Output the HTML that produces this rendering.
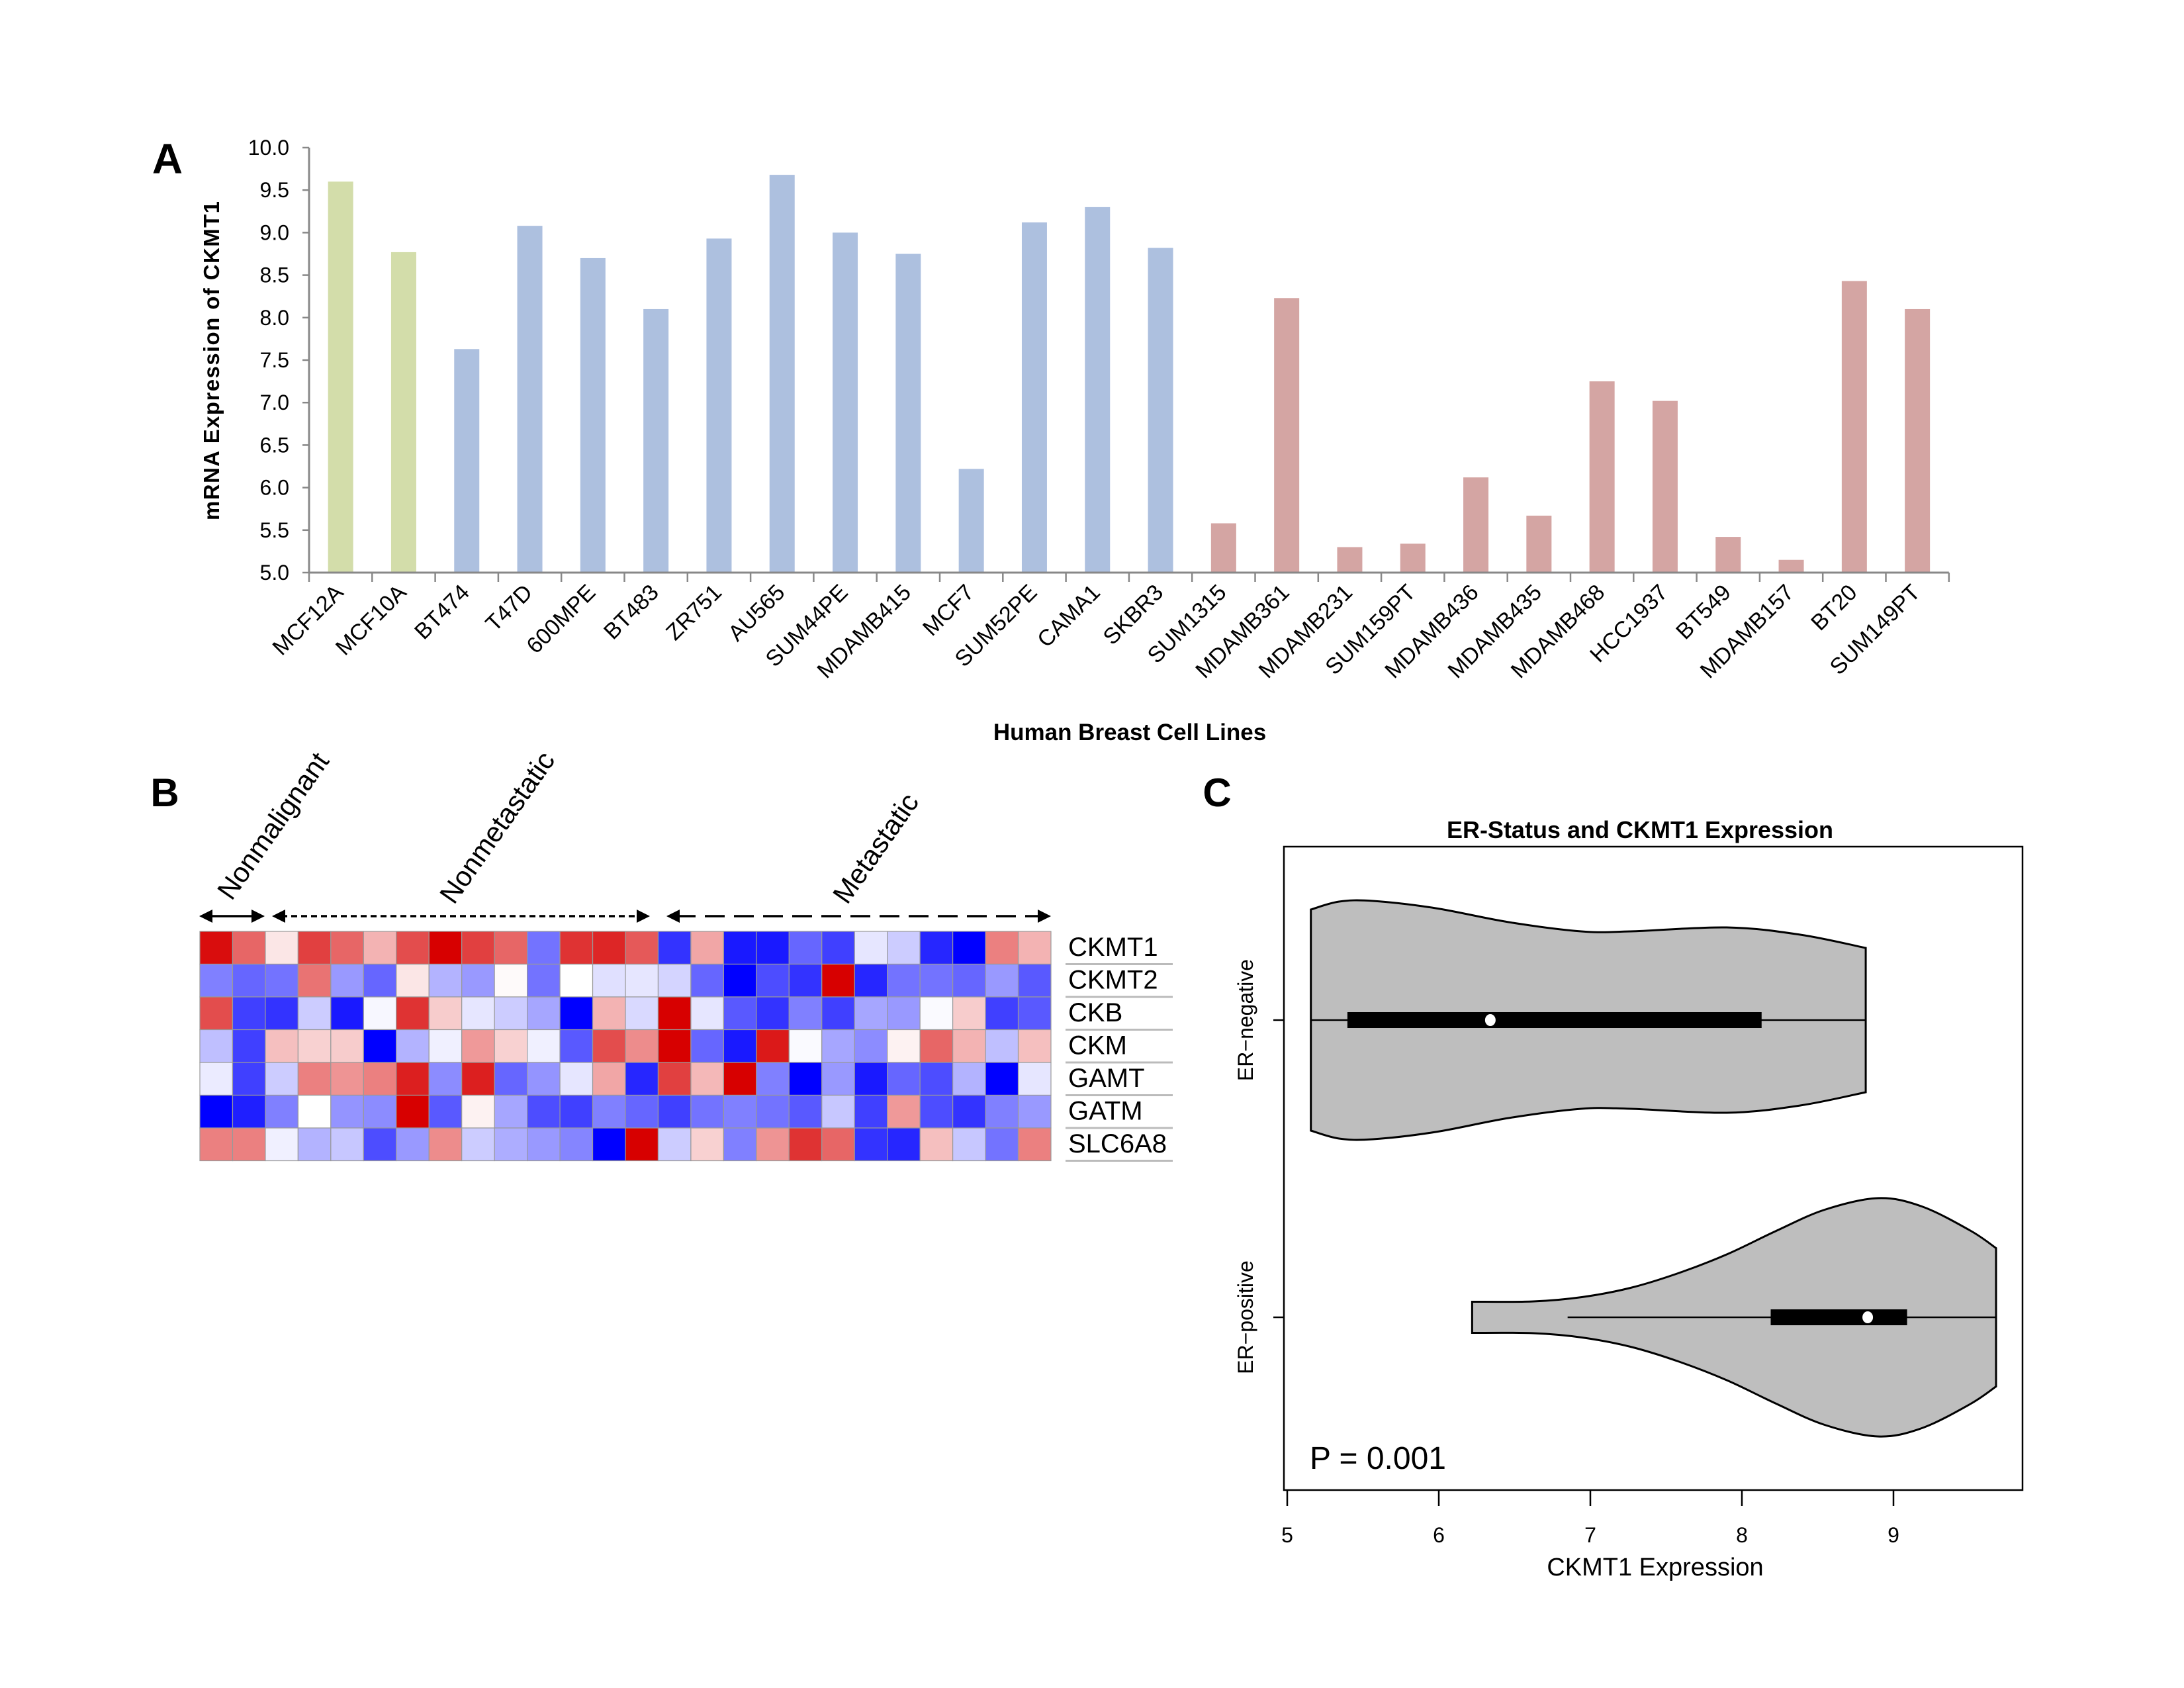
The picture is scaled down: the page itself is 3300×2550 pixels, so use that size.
<!DOCTYPE html>
<html><head><meta charset="utf-8"><style>
html,body{margin:0;padding:0;background:#fff}
svg{display:block}
text{font-family:"Liberation Sans",sans-serif}
</style></head><body>
<svg id="fig" width="3300" height="2550" viewBox="0 0 3300 2550" xmlns="http://www.w3.org/2000/svg">
<g id="panelA"></g>
<g id="panelB"></g>
<g id="panelC"></g>
</svg>
<script>
const NS="http://www.w3.org/2000/svg";
// ---------- Panel A data ----------
const cellLines=["MCF12A","MCF10A","BT474","T47D","600MPE","BT483","ZR751","AU565","SUM44PE","MDAMB415","MCF7","SUM52PE","CAMA1","SKBR3","SUM1315","MDAMB361","MDAMB231","SUM159PT","MDAMB436","MDAMB435","MDAMB468","HCC1937","BT549","MDAMB157","BT20","SUM149PT"];
const ckmt1Values=[9.6,8.77,7.63,9.08,8.7,8.1,8.93,9.68,9.0,8.75,6.22,9.12,9.3,8.82,5.58,8.23,5.3,5.34,6.12,5.67,7.25,7.02,5.42,5.15,8.43,8.1];
const cellGroups=["non","non","nm","nm","nm","nm","nm","nm","nm","nm","nm","nm","nm","nm","m","m","m","m","m","m","m","m","m","m","m","m"];
const yTicksA=[5.0,5.5,6.0,6.5,7.0,7.5,8.0,8.5,9.0,9.5,10.0];
// ---------- Panel B data ----------
const genes=["CKMT1","CKMT2","CKB","CKM","GAMT","GATM","SLC6A8"];
const heat=[
[0.95,0.6,0.1,0.75,0.6,0.3,0.7,1.0,0.75,0.6,-0.55,0.8,0.85,0.65,-0.8,0.35,-0.9,-0.9,-0.6,-0.75,-0.1,-0.2,-0.85,-1.0,0.5,0.3],
[-0.5,-0.6,-0.55,0.55,-0.4,-0.6,0.1,-0.3,-0.4,0.02,-0.55,0.0,-0.12,-0.1,-0.17,-0.6,-1.0,-0.7,-0.8,1.0,-0.85,-0.55,-0.55,-0.6,-0.4,-0.65],
[0.7,-0.75,-0.8,-0.2,-0.9,-0.03,0.8,0.2,-0.1,-0.2,-0.35,-1.0,0.3,-0.15,1.0,-0.1,-0.65,-0.8,-0.5,-0.75,-0.35,-0.4,-0.02,0.2,-0.75,-0.65],
[-0.25,-0.75,0.25,0.18,0.2,-1.0,-0.3,-0.06,0.4,0.18,-0.06,-0.65,0.7,0.45,1.0,-0.6,-0.9,0.9,-0.02,-0.35,-0.45,0.05,0.6,0.3,-0.25,0.25],
[-0.08,-0.75,-0.2,0.5,0.42,0.5,0.88,-0.45,0.88,-0.6,-0.42,-0.1,0.35,-0.85,0.75,0.28,1.0,-0.5,-1.0,-0.4,-0.9,-0.6,-0.7,-0.3,-1.0,-0.1],
[-1.0,-0.88,-0.5,0.0,-0.42,-0.45,1.0,-0.65,0.05,-0.35,-0.7,-0.75,-0.5,-0.6,-0.75,-0.55,-0.5,-0.55,-0.65,-0.22,-0.75,0.4,-0.7,-0.8,-0.5,-0.4],
[0.5,0.5,-0.06,-0.3,-0.22,-0.7,-0.4,0.45,-0.2,-0.32,-0.4,-0.48,-1.0,1.0,-0.2,0.18,-0.5,0.42,0.8,0.6,-0.8,-0.85,0.25,-0.22,-0.55,0.5]];
// ---------- Panel C data ----------
const negX=[5.156,5.342,5.566,5.98,6.46,6.94,7.265,7.90,8.385,8.817];
const negDens=[167,179,180,169,148,134,134,140,129,109];
const negBox=[5.156,5.397,6.34,8.13,8.817]; // min,q1,median,q3,max
const posX=[6.22,6.624,6.944,7.265,7.585,7.905,8.226,8.546,8.898,9.187,9.507,9.677];
const posDens=[23.5,24,30.5,44.5,67,95.5,130.5,162.5,180,167.5,131,104.5];
const posBox=[6.85,8.19,8.83,9.09,9.677];
const xTicksC=[5,6,7,8,9];

function el(tag,attrs,parent,txt){const e=document.createElementNS(NS,tag);for(const k in attrs)e.setAttribute(k,attrs[k]);if(txt!==undefined)e.textContent=txt;parent.appendChild(e);return e;}

// ===== Panel A =====
(function(){
const g=document.getElementById('panelA');
const x0=467,slot=95.3,y5=865,y10=223;
const Y=v=>y5-(v-5)/(5)*(y5-y10);
const colors={non:"#d3ddaa",nm:"#adc0df",m:"#d4a5a3"};
let t=el('text',{x:253,y:262,'font-size':64,'font-weight':'bold','text-anchor':'middle'},g,'A');

const xEnd=x0+slot*cellLines.length;
cellLines.forEach((c,i)=>{
 const cx=x0+slot*(i+0.5);
 const r=el('rect',{x:cx-19,y:Y(ckmt1Values[i]),width:38,height:y5-Y(ckmt1Values[i]),fill:colors[cellGroups[i]]},g);
 
 
 const lb=el('text',{x:cx+6,y:y5+32,'font-size':34,'text-anchor':'end',transform:`rotate(-45 ${cx+6} ${y5+32})`},g,c);
 
 
});
for(let i=0;i<=cellLines.length;i++){el('line',{x1:x0+slot*i,x2:x0+slot*i,y1:y5,y2:y5+14,stroke:'#888','stroke-width':2.5},g);}
const ax=el('line',{x1:x0,x2:xEnd,y1:y5,y2:y5,stroke:'#888','stroke-width':3},g);

const ay=el('line',{x1:x0,x2:x0,y1:y10,y2:y5,stroke:'#888','stroke-width':3},g);

yTicksA.forEach(v=>{
 el('line',{x1:x0-10,x2:x0,y1:Y(v),y2:Y(v),stroke:'#888','stroke-width':2.5},g);
 const tl=el('text',{x:x0-30,y:Y(v)+11,'font-size':32,'text-anchor':'end'},g,v.toFixed(1));
 
 
});
t=el('text',{x:331,y:545,'font-size':33,'font-weight':'bold','text-anchor':'middle',transform:'rotate(-90 331 545)',textLength:482},g,'mRNA Expression of CKMT1');

t=el('text',{x:1707,y:1118,'font-size':35,'font-weight':'bold','text-anchor':'middle'},g,'Human Breast Cell Lines');

})();

// ===== Panel B =====
(function(){
const g=document.getElementById('panelB');
const hx=302,hy=1407,cw=(1588-302)/26,rh=49.5;
function col(v){if(v>=0){return `rgb(${Math.round(255-40*v)},${Math.round(255*(1-v))},${Math.round(255*(1-v))})`;}const a=-v;return `rgb(${Math.round(255*(1-a))},${Math.round(255*(1-a))},255)`;}
let t=el('text',{x:249,y:1218,'font-size':60,'font-weight':'bold','text-anchor':'middle'},g,'B');

heat.forEach((row,r)=>{
 row.forEach((v,c)=>{
  const cell=el('rect',{x:hx+c*cw,y:hy+r*rh,width:cw,height:rh,fill:col(v),stroke:'#999','stroke-width':1.2},g);
  
  
 });
 const gl=el('text',{x:1614,y:hy+r*rh+37,'font-size':40},g,genes[r]);
 
 
 el('line',{x1:1610,x2:1772,y1:hy+(r+1)*rh,y2:hy+(r+1)*rh,stroke:'#bbb','stroke-width':3},g);
});
const ay=1384;
function arrow(x1,x2,dash,name){
 const gg=el('g',{},g);
 
 el('line',{x1:x1+14,x2:x2-14,y1:ay,y2:ay,stroke:'#000','stroke-width':3.5,'stroke-dasharray':dash},gg);
 el('polygon',{points:`${x1},${ay} ${x1+20},${ay-10} ${x1+20},${ay+10}`,fill:'#000'},gg);
 el('polygon',{points:`${x2},${ay} ${x2-20},${ay-10} ${x2-20},${ay+10}`,fill:'#000'},gg);
}
arrow(301,400,'none','nonmalignant-arrow');
arrow(411,982,'9,6','nonmetastatic-arrow');
arrow(1007,1588,'30,14','metastatic-arrow');
function lab(x,y,s,name){const l=el('text',{x:x,y:y,'font-size':42,transform:`rotate(-55 ${x} ${y})`},g,s);}
lab(350,1362,'Nonmalignant','nonmalignant-label');
lab(686,1368,'Nonmetastatic','nonmetastatic-label');
lab(1280,1368,'Metastatic','metastatic-label');
})();

// ===== Panel C =====
(function(){
const g=document.getElementById('panelC');
const X=v=>2174+(v-6)*229;
const bx0=1940,by0=1279,bx1=3056,by1=2251;
const cNeg=1541,cPos=1990;
let t=el('text',{x:1839,y:1218,'font-size':60,'font-weight':'bold','text-anchor':'middle'},g,'C');

t=el('text',{x:2478,y:1266,'font-size':36,'font-weight':'bold','text-anchor':'middle'},g,'ER-Status and CKMT1 Expression');

const fr=el('rect',{x:bx0,y:by0,width:bx1-bx0,height:by1-by0,fill:'none',stroke:'#000','stroke-width':2.5},g);

function smooth(pts){let d=`M${pts[0][0]},${pts[0][1]}`;for(let i=0;i<pts.length-1;i++){const p0=pts[i-1]||pts[i],p1=pts[i],p2=pts[i+1],p3=pts[i+2]||p2;const c1=[p1[0]+(p2[0]-p0[0])/6,p1[1]+(p2[1]-p0[1])/6],c2=[p2[0]-(p3[0]-p1[0])/6,p2[1]-(p3[1]-p1[1])/6];d+=` C${c1[0]},${c1[1]} ${c2[0]},${c2[1]} ${p2[0]},${p2[1]}`;}return d;}
function violin(xs,ds,box,cy,name){
 const gg=el('g',{},g);
 const top=xs.map((v,i)=>[X(v),cy-ds[i]]);
 const bot=xs.map((v,i)=>[X(v),cy+ds[i]]).reverse();
 let d=smooth(top);
 d+=` L${bot[0][0]},${bot[0][1]}`+smooth(bot).replace(/^M[^C]*/,'')+' Z';
 const p=el('path',{d:d,fill:'#bebebe',stroke:'#000','stroke-width':3},gg);
 
 el('line',{x1:X(box[0]),x2:X(box[4]),y1:cy,y2:cy,stroke:'#000','stroke-width':2.5},gg);
 el('rect',{x:X(box[1]),y:cy-12,width:X(box[3])-X(box[1]),height:24,fill:'#000'},gg);
 el('ellipse',{cx:X(box[2]),cy:cy,rx:8,ry:9,fill:'#fff'},gg);
}
violin(negX,negDens,negBox,cNeg,'violin-er-negative');
violin(posX,posDens,posBox,cPos,'violin-er-positive');
[[cNeg,'ER\u2212negative'],[cPos,'ER\u2212positive']].forEach(([cy,s])=>{
 el('line',{x1:bx0-16,x2:bx0,y1:cy,y2:cy,stroke:'#000','stroke-width':2.5},g);
 const l=el('text',{x:1893,y:cy,'font-size':32,'text-anchor':'middle',transform:`rotate(-90 1893 ${cy})`},g,s);
 
});
xTicksC.forEach(v=>{
 el('line',{x1:X(v),x2:X(v),y1:by1,y2:by1+24,stroke:'#000','stroke-width':2.5},g);
 const l=el('text',{x:X(v),y:2330,'font-size':32,'text-anchor':'middle'},g,String(v));
 
});
t=el('text',{x:2501,y:2380,'font-size':38,'text-anchor':'middle'},g,'CKMT1 Expression');

t=el('text',{x:1979,y:2219,'font-size':48},g,'P = 0.001');

})();
</script>
</body></html>
